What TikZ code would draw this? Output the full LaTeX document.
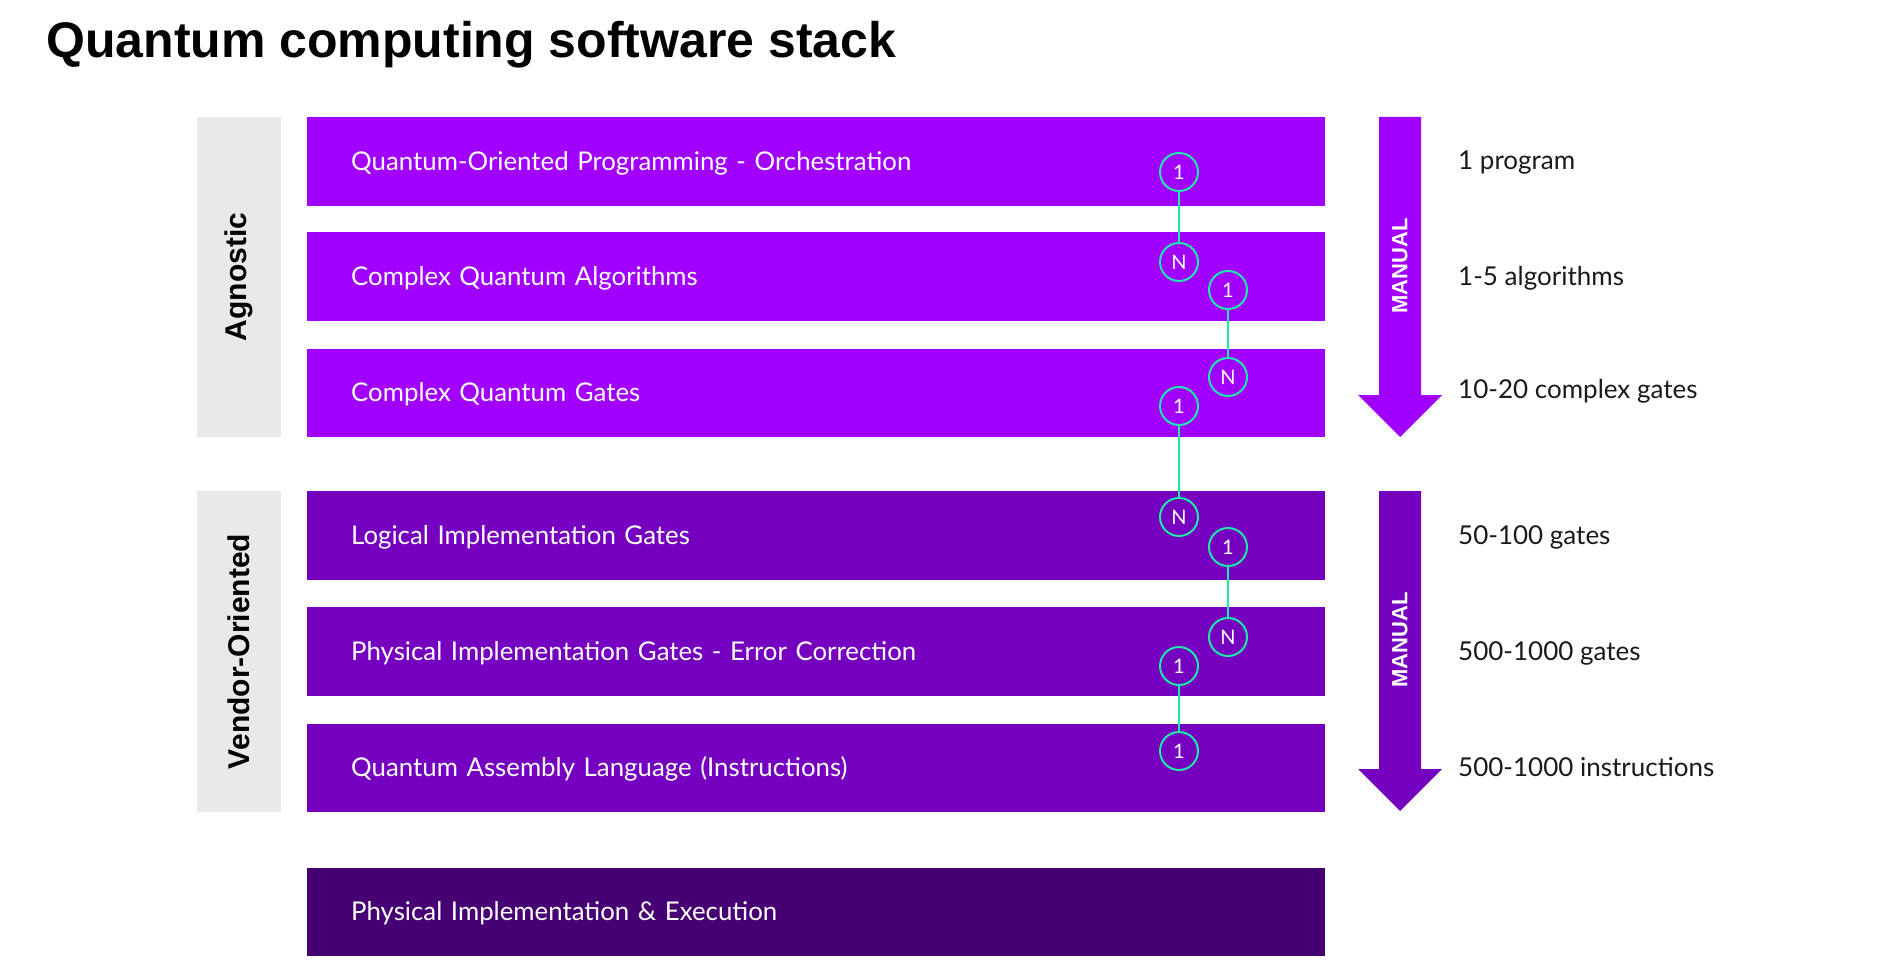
\documentclass[tikz,border=0pt]{standalone}
\usepackage{fontspec}
\setmainfont{Lato}
\newfontfamily\headfont{Liberation Sans}
\definecolor{agn}{HTML}{A100FF}
\definecolor{vend}{HTML}{7500C0}
\definecolor{exe}{HTML}{460073}
\definecolor{grayb}{HTML}{E9E9E7}
\definecolor{mint}{HTML}{1DE9A8}
\definecolor{ink}{HTML}{1A1A1A}
\tikzset{
  layer/.style={rectangle, anchor=north west, minimum width=1018pt, minimum height=88.6pt,
    inner xsep=44pt, inner ysep=0pt, text width=930pt, align=left, text=white,
    font=\fontsize{25.8}{26}\selectfont, text height=18pt, text depth=0pt},
  group/.style={rectangle, fill=grayb, rotate=90, minimum height=84pt, inner sep=0pt,
    font=\headfont\bfseries\fontsize{30}{30}\selectfont, text=black},
  count/.style={anchor=base west, text=ink, inner sep=0pt, font=\fontsize{26}{26}\selectfont},
  card/.style={circle, draw=mint, line width=2pt, minimum size=38pt, inner sep=0pt,
    text=white, font=\fontsize{20}{20}\selectfont},
  link/.style={draw=mint, line width=2pt},
  manual/.style={rotate=90, text=white, inner sep=0pt, font=\headfont\bfseries\fontsize{22}{22}\selectfont}
}
\begin{document}
\begin{tikzpicture}[x=1pt,y=-1pt]
\useasboundingbox (0,0) rectangle (1901,976);
% title
\node[anchor=base west, inner sep=0pt, font=\headfont\bfseries\fontsize{50}{50}\selectfont] (title) at (46,58) {Quantum computing software stack};
% groups
\node[group, minimum width=320pt] (g1) at (239,277) {Agnostic};
\node[group, minimum width=321pt] (g2) at (239,651.5) {Vendor-Oriented};
% layers
\node[layer, fill=agn] (b1) at (307,117) {Quantum-Oriented Programming - Orchestration};
\node[layer, fill=agn] (b2) at (307,232.3) {Complex Quantum Algorithms};
\node[layer, fill=agn] (b3) at (307,348.4) {Complex Quantum Gates};
\node[layer, fill=vend] (b4) at (307,491) {Logical Implementation Gates};
\node[layer, fill=vend] (b5) at (307,607.2) {Physical Implementation Gates - Error Correction};
\node[layer, fill=vend] (b6) at (307,723.4) {Quantum Assembly Language (Instructions)};
\node[layer, fill=exe] (b7) at (307,867.4) {Physical Implementation \& Execution};
% arrows
\fill[agn] (1379,117) -- (1421,117) -- (1421,395) -- (1442,395) -- (1400,437) -- (1358,395) -- (1379,395) -- cycle;
\fill[vend] (1379,491) -- (1421,491) -- (1421,769) -- (1442,769) -- (1400,811) -- (1358,769) -- (1379,769) -- cycle;
\node[manual] (m1) at (1400,266) {MANUAL};
\node[manual] (m2) at (1400,640) {MANUAL};
% counts
\node[count] (t1) at (1458,170) {1 program};
\node[count] (t2) at (1458,285.5) {1-5 algorithms};
\node[count] (t3) at (1458,398.5) {10-20 complex gates};
\node[count] (t4) at (1458,544.5) {50-100 gates};
\node[count] (t5) at (1458,660.5) {500-1000 gates};
\node[count] (t6) at (1458,776.5) {500-1000 instructions};
% cardinality circles
\node[card] (c1) at (1179,172) {1};
\node[card] (c2) at (1179,262) {N};
\node[card] (c3) at (1228,290) {1};
\node[card] (c4) at (1228,377) {N};
\node[card] (c5) at (1179,406) {1};
\node[card] (c6) at (1179,517) {N};
\node[card] (c7) at (1228,547) {1};
\node[card] (c8) at (1228,637) {N};
\node[card] (c9) at (1179,666) {1};
\node[card] (c10) at (1179,751) {1};
\draw[link] (c1) -- (c2);
\draw[link] (c3) -- (c4);
\draw[link] (c5) -- (c6);
\draw[link] (c7) -- (c8);
\draw[link] (c9) -- (c10);
\end{tikzpicture}
\end{document}
